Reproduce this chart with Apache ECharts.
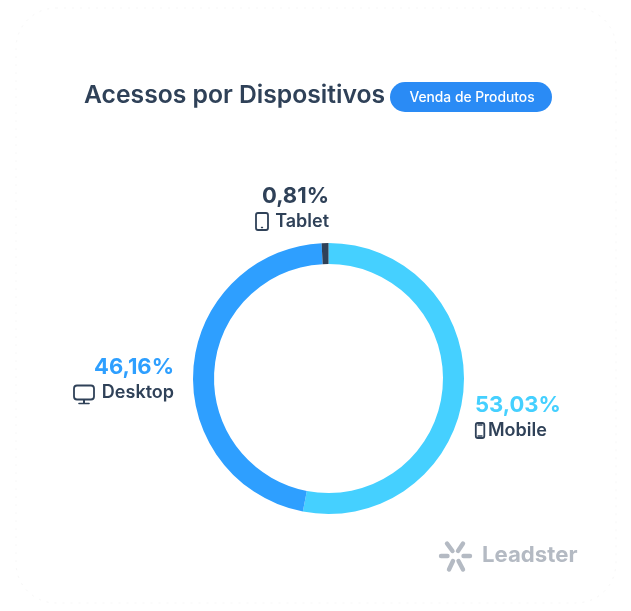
<!DOCTYPE html>
<html>
<head>
<meta charset="utf-8">
<style>
  html, body { margin: 0; padding: 0; background: #ffffff; }
  #main { width: 631px; height: 611px; }
</style>
<script src="https://cdn.jsdelivr.net/npm/echarts@6/dist/echarts.min.js"></script>
</head>
<body>
<div id="main"></div>
<script>
const devices = ['Mobile', 'Desktop', 'Tablet'];
const shares = [53.03, 46.16, 0.81];
const sliceColors = ['#45d0ff', '#2e9fff', '#2f4158'];
const pctColors = ['#45d0ff', '#2e9fff', '#2f4158'];
const titleText = 'Acessos por Dispositivos';
const badgeText = 'Venda de Produtos';
const brandText = 'Leadster';

const dark = '#2f4158';
const font = 'Inter, "Noto Sans", sans-serif';

// where each label sits, same order as devices
const labelSpots = [
  { x: 475, y: 392, align: 'left' },
  { x: 174, y: 354, align: 'right' },
  { x: 329, y: 183, align: 'right' }
];

function outlineIcon(shape, style) {
  return { type: 'rect', silent: true, shape: shape, style: Object.assign({ fill: 'none', stroke: dark, lineWidth: 1.8 }, style) };
}

function stroke(x1, y1, x2, y2, color, width) {
  return {
    type: 'line', silent: true,
    shape: { x1: x1, y1: y1, x2: x2, y2: y2 },
    style: { stroke: color, lineWidth: width, lineCap: 'round' }
  };
}

const logoGrey = '#b4bac3';

const chart = echarts.init(document.getElementById('main'), null, { renderer: 'canvas' });

chart.setOption({
  backgroundColor: '#ffffff',
  animation: false,
  graphic: [
    // faint card outline
    { type: 'rect', silent: true, shape: { x: 16, y: 8, width: 600, height: 595, r: 40 }, style: { fill: 'none', stroke: '#f7f7f7', lineWidth: 1, lineDash: [2, 6] } },
    { type: 'text', silent: true, x: 84, y: 96, style: { text: titleText, fill: dark, font: '600 24.7px ' + font, verticalAlign: 'middle' } },
    { type: 'rect', silent: true, shape: { x: 390, y: 82, width: 162, height: 30, r: 15 }, style: { fill: '#2a8bf5' } },
    { type: 'text', silent: true, x: 472, y: 97.5, style: { text: badgeText, fill: '#ffffff', font: '500 13.8px ' + font, align: 'center', verticalAlign: 'middle' } },

    // tablet icon
    outlineIcon({ x: 256, y: 213, width: 12, height: 17, r: 2 }),
    stroke(261.5, 227.5, 262.5, 227.5, dark, 1.4),
    // desktop icon
    outlineIcon({ x: 74, y: 385.5, width: 20, height: 14, r: 3 }),
    stroke(84, 400, 84, 403, dark, 2),
    stroke(79, 403.5, 89, 403.5, dark, 1.6),
    // mobile icon
    outlineIcon({ x: 475.8, y: 423, width: 8.5, height: 15, r: 2 }),
    stroke(478, 425, 482, 425, dark, 1.4),
    stroke(478, 436, 482, 436, dark, 1.4),

    // logo
    stroke(447, 543.5, 452.5, 551, logoGrey, 4.4),
    stroke(463, 543.5, 458, 551, logoGrey, 4.4),
    stroke(441, 556, 447.5, 556, logoGrey, 4.4),
    stroke(463.5, 556, 470, 556, logoGrey, 4.4),
    stroke(449, 569.5, 453, 561, logoGrey, 4.4),
    stroke(463, 569.5, 458.5, 561, logoGrey, 4.4),
    { type: 'text', silent: true, x: 482, y: 555, style: { text: brandText, fill: logoGrey, font: '700 22.2px ' + font, verticalAlign: 'middle' } }
  ],
  series: [{
    type: 'pie',
    silent: true,
    center: [328.5, 378.5],
    radius: [114.5, 135.5],
    startAngle: 90,
    clockwise: true,
    avoidLabelOverlap: false,
    data: devices.map(function (name, i) {
      return {
        name: name,
        value: shares[i],
        itemStyle: { color: sliceColors[i] },
        label: {
          align: labelSpots[i].align,
          rich: {
            pct: { fontFamily: font, fontWeight: 700, fontSize: 22, lineHeight: 27, color: pctColors[i], align: labelSpots[i].align },
            name: { fontFamily: font, fontWeight: 600, fontSize: 18, lineHeight: 24, color: dark, align: labelSpots[i].align, padding: [0, 0, 0, i === 0 ? 13 : 0] }
          }
        }
      };
    }),
    label: {
      show: true,
      position: 'outside',
      formatter: function (p) {
        return '{pct|' + p.value.toFixed(2).replace('.', ',') + '%}\n{name|' + p.name + '}';
      }
    },
    labelLine: { show: false },
    labelLayout: function (params) {
      const spot = labelSpots[params.dataIndex];
      return { x: spot.x, y: spot.y, align: spot.align, verticalAlign: 'top' };
    }
  }]
});
</script>
</body>
</html>
